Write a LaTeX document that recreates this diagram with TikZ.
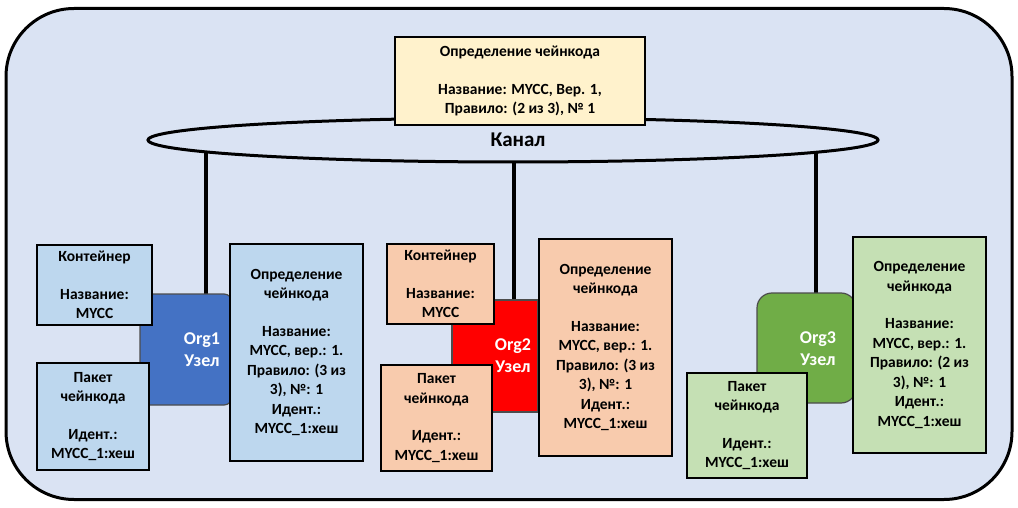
\documentclass[tikz,border=0pt]{standalone}
\usepackage{fontspec}
\setmainfont{Carlito}
\usetikzlibrary{shapes.geometric}
\definecolor{bgc}{HTML}{DAE3F3}
\definecolor{topc}{HTML}{FFF2CC}
\definecolor{bluebox}{HTML}{BDD7EE}
\definecolor{orgblue}{HTML}{4472C4}
\definecolor{orangebox}{HTML}{F8CBAD}
\definecolor{orgred}{HTML}{FF0000}
\definecolor{greenbox}{HTML}{C5E0B4}
\definecolor{orggreen}{HTML}{70AD47}
\begin{document}
\begin{tikzpicture}[x=1pt,y=-1pt,
  box/.style={draw=black,line width=1.8pt,align=center,inner sep=0pt,
    font=\bfseries\fontsize{15.5}{19.5}\selectfont},
  orgshape/.style={inner sep=0pt,draw=black!70,line width=1.2pt},
  orgtext/.style={text=white,align=center,inner sep=0pt,
    font=\bfseries\fontsize{18}{22}\selectfont},
  conn/.style={line width=3.2pt,draw=black}]
\useasboundingbox (0,0) rectangle (1018,508);
\node[draw=black,line width=3pt,fill=bgc,rounded corners=68pt,
  minimum width=1006pt,minimum height=491pt,inner sep=0pt] (frame) at (509,254) {};
% connector ends
\coordinate (chc) at (513,140);
\coordinate (c1) at (206,294);
\coordinate (c2) at (514,300);
\coordinate (c3) at (816,293);
\draw[conn] (c1) -- (c1 |- chc);
\draw[conn] (c2) -- (c2 |- chc);
\draw[conn] (c3) -- (c3 |- chc);
% channel
\node[ellipse,draw=black,line width=3pt,fill=bgc,minimum width=730pt,
  minimum height=44pt,inner sep=0pt,
  font=\bfseries\fontsize{21}{25}\selectfont] (channel) at (chc) {\hspace*{10pt}Канал};
% top definition
\node[box,fill=topc,minimum width=250pt,minimum height=88pt] (topdef) at (520,81)
  {Определение чейнкода\\[18pt]Название: MYCC, Вер. 1,\\Правило: (2 из 3), № 1};
% org nodes
\node[orgshape,fill=orgblue,rounded corners=8pt,minimum width=92pt,minimum height=111pt] (org1) at (186,349.5) {};
\node[orgtext] (org1t) at (202,350) {Org1\\Узел};
\node[orgshape,fill=orgred,minimum width=86pt,minimum height=112pt] (org2) at (495,356) {};
\node[orgtext] (org2t) at (513,356) {Org2\\Узел};
\node[orgshape,fill=orggreen,rounded corners=15pt,minimum width=99pt,minimum height=110pt] (org3) at (806.5,348) {};
\node[orgtext] (org3t) at (818,349) {Org3\\Узел};
% Org1 boxes
\node[box,fill=bluebox,minimum width=115pt,minimum height=80pt] (cont1) at (94.5,285)
  {Контейнер\\[18pt]Название:\\MYCC};
\node[box,fill=bluebox,minimum width=112pt,minimum height=107pt] (pack1) at (93,416.5)
  {Пакет\\чейнкода\\[18pt]Идент.:\\MYCC\_1:хеш};
\node[box,fill=bluebox,minimum width=133pt,minimum height=217pt] (def1) at (296.5,352.5)
  {Определение\\чейнкода\\[18pt]Название:\\MYCC, вер.: 1.\\Правило: (3 из\\3), №: 1\\Идент.:\\MYCC\_1:хеш};
% Org2 boxes
\node[box,fill=orangebox,minimum width=107pt,minimum height=80pt] (cont2) at (440.5,284)
  {Контейнер\\[18pt]Название:\\MYCC};
\node[box,fill=orangebox,minimum width=111pt,minimum height=106pt] (pack2) at (436.5,418)
  {Пакет\\чейнкода\\[18pt]Идент.:\\MYCC\_1:хеш};
\node[box,fill=orangebox,minimum width=133pt,minimum height=217pt] (def2) at (605.5,347.5)
  {Определение\\чейнкода\\[18pt]Название:\\MYCC, вер.: 1.\\Правило: (3 из\\3), №: 1\\Идент.:\\MYCC\_1:хеш};
% Org3 boxes
\node[box,fill=greenbox,minimum width=120pt,minimum height=105pt] (pack3) at (747,425.5)
  {Пакет\\чейнкода\\[18pt]Идент.:\\MYCC\_1:хеш};
\node[box,fill=greenbox,minimum width=133pt,minimum height=216pt] (def3) at (919.5,345)
  {Определение\\чейнкода\\[18pt]Название:\\MYCC, вер.: 1.\\Правило: (2 из\\3), №: 1\\Идент.:\\MYCC\_1:хеш};
\end{tikzpicture}
\end{document}
